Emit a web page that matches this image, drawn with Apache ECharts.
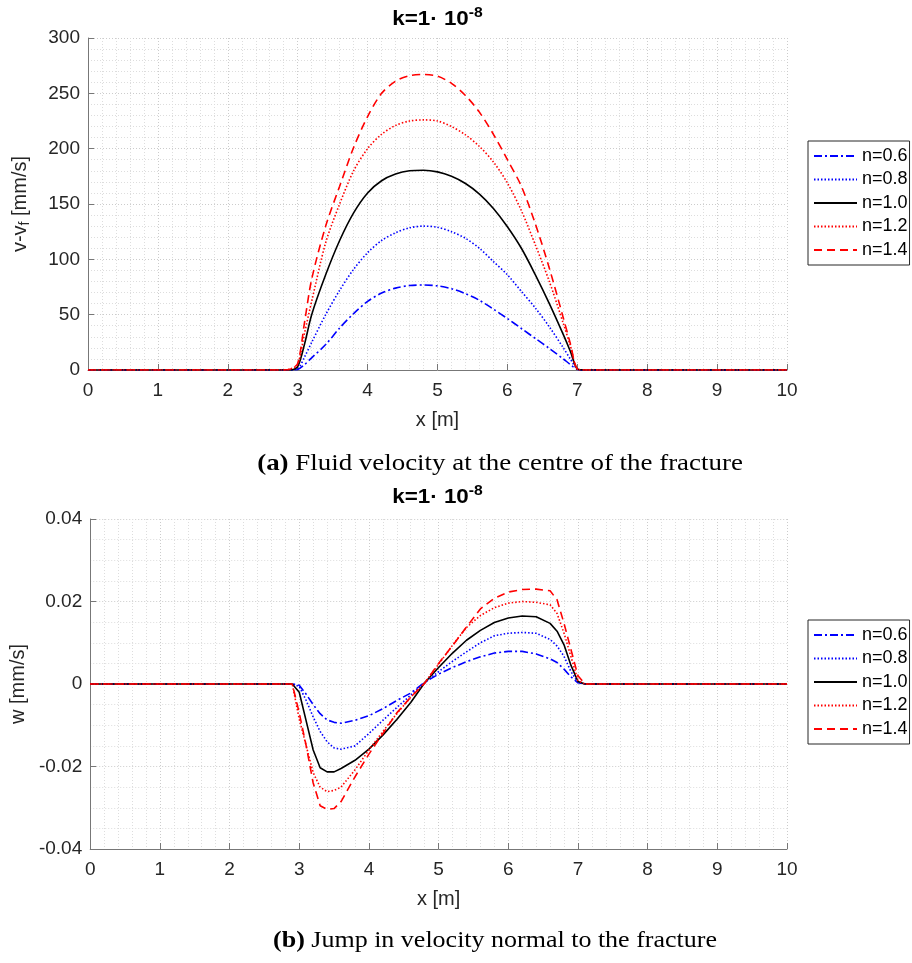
<!DOCTYPE html>
<html>
<head>
<meta charset="utf-8">
<script src="https://cdn.jsdelivr.net/npm/echarts@6/dist/echarts.min.js"></script>
<style>
  html, body { margin: 0; padding: 0; background: #fff; }
  #chart { width: 912px; height: 963px; }
</style>
</head>
<body>
<div id="chart"></div>
<script>
// (a) fluid velocity v - v_f [mm/s] along x [m]
const xTop = [0, 2.8, 2.9, 3.0, 3.1, 3.2, 3.4, 3.6, 3.8, 4.0, 4.2, 4.4, 4.6, 4.8, 5.0, 5.2, 5.4, 5.6, 5.8, 6.0, 6.2, 6.4, 6.6, 6.8, 6.9, 7.0, 7.1, 10]
const velN06 = [0, 0, 0, 0.5, 5, 11, 23, 38, 51, 62, 69.5, 74, 76.3, 76.8, 76, 73.5, 69, 63, 55, 46.5, 37.5, 28.5, 19.5, 10, 5, 0.5, 0, 0]
const velN08 = [0, 0, 0, 1, 12, 25, 50, 72, 91, 106, 117, 124, 128.5, 130, 129, 125, 119, 110, 98, 86, 71, 56, 39, 20, 10, 1, 0, 0]
const velN10 = [0, 0, 0, 3, 24, 50, 86, 117, 142, 160, 171, 177, 180, 180.5, 179, 175, 168.5, 159, 146, 129.5, 110, 86, 60, 32, 17, 1, 0, 0]
const velN12 = [0, 0, 1, 5, 34, 62, 115, 150, 180, 200, 213, 221, 225, 226, 225, 220, 212.5, 202, 188, 169, 144, 113, 80, 42, 22, 1, 0, 0]
const velN14 = [0, 0, 1, 6, 44, 82, 130, 166, 201, 229, 250, 261, 266, 267, 265.5, 259, 248, 233, 213, 190, 166, 132, 92, 47, 24, 1, 0, 0]

// (b) jump in normal velocity w [mm/s] along x [m]
const xBot = [0, 2.8, 2.9, 3.0, 3.1, 3.2, 3.3, 3.4, 3.5, 3.6, 3.8, 4.0, 4.2, 4.4, 4.6, 4.8, 5.0, 5.2, 5.4, 5.6, 5.8, 6.0, 6.2, 6.4, 6.6, 6.7, 6.8, 6.9, 7.0, 7.1, 10]
const jumpN06 = [0, 0, 0, -0.0003, -0.0025, -0.0050, -0.0072, -0.0087, -0.0093, -0.0095, -0.0088, -0.0077, -0.0060, -0.0040, -0.0022, 0.0004, 0.0024, 0.0040, 0.0054, 0.0066, 0.0075, 0.0079, 0.0079, 0.0073, 0.0061, 0.0052, 0.0036, 0.0017, 0.0003, 0, 0]
const jumpN08 = [0, 0, 0, -0.0006, -0.0040, -0.0080, -0.0115, -0.0140, -0.0155, -0.0158, -0.0150, -0.0120, -0.0088, -0.0057, -0.0027, 0.0003, 0.0030, 0.0055, 0.0078, 0.0100, 0.0117, 0.0123, 0.0125, 0.0123, 0.0108, 0.0092, 0.0067, 0.0030, 0.0004, 0, 0]
const jumpN10 = [0, 0, 0, -0.0020, -0.0090, -0.0160, -0.0203, -0.0213, -0.0213, -0.0205, -0.0185, -0.0158, -0.0124, -0.0086, -0.0045, 0.0003, 0.0040, 0.0075, 0.0106, 0.0130, 0.0149, 0.0160, 0.0165, 0.0163, 0.0147, 0.0128, 0.0095, 0.0045, 0.0006, 0, 0]
const jumpN12 = [0, 0, 0, -0.0085, -0.0150, -0.0215, -0.0250, -0.0261, -0.0258, -0.0250, -0.0208, -0.0160, -0.0115, -0.0072, -0.0032, 0.0003, 0.0048, 0.0094, 0.0137, 0.0166, 0.0185, 0.0196, 0.0200, 0.0198, 0.0192, 0.0171, 0.0123, 0.0066, 0.0008, 0, 0]
const jumpN14 = [0, 0, 0, -0.0070, -0.0150, -0.0240, -0.0295, -0.0304, -0.0302, -0.0285, -0.0225, -0.0170, -0.0120, -0.0070, -0.0032, 0.0002, 0.0050, 0.0093, 0.0138, 0.0182, 0.0208, 0.0223, 0.0229, 0.0230, 0.0226, 0.0204, 0.0147, 0.0083, 0.0020, 0, 0]

const seriesNames = ['n=0.6', 'n=0.8', 'n=1.0', 'n=1.2', 'n=1.4']

const FONT = '"Liberation Sans", Helvetica, Arial, sans-serif'
const SERIF = '"Liberation Serif", "Times New Roman", serif'

const lineLooks = [
  { color: '#0000ff', type: [8, 3, 2, 3] },
  { color: '#0000ff', type: [1.5, 2] },
  { color: '#000000', type: 'solid' },
  { color: '#ff0000', type: [1.5, 2] },
  { color: '#ff0000', type: [8, 5] }
]

function pairs (xs, ys) {
  return xs.map((x, i) => [x, ys[i]])
}

function makeSeries (idx, xs, list, smooth) {
  return list.map((ys, i) => ({
    name: seriesNames[i],
    type: 'line',
    xAxisIndex: idx,
    yAxisIndex: idx,
    data: pairs(xs, ys),
    symbol: 'none',
    showSymbol: false,
    smooth: smooth,
    lineStyle: { width: 1.6, color: lineLooks[i].color, type: lineLooks[i].type },
    itemStyle: { color: lineLooks[i].color },
    z: 3 + i
  }))
}

function xAxisOf (idx) {
  return {
    type: 'value',
    gridIndex: idx,
    min: 0,
    max: 10,
    interval: 1,
    name: 'x [m]',
    nameLocation: 'middle',
    nameGap: 40,
    nameTextStyle: { fontFamily: FONT, fontSize: 20, color: '#262626' },
    axisLine: { onZero: false, lineStyle: { color: '#777777', width: 1 } },
    axisTick: { inside: true, length: 6, lineStyle: { color: '#777777' } },
    axisLabel: { fontFamily: FONT, fontSize: 19, color: '#262626', margin: 11 },
    splitLine: { show: true, lineStyle: { color: '#cccccc', type: [1, 2] } },
    minorTick: { show: false, splitNumber: 5 },
    minorSplitLine: { show: true, lineStyle: { color: '#dddddd', type: [1, 2] } }
  }
}

function yAxisOf (idx, min, max, interval, minorSplit, name) {
  return {
    type: 'value',
    gridIndex: idx,
    min: min,
    max: max,
    interval: interval,
    name: name,
    nameLocation: 'middle',
    nameRotate: 90,
    nameGap: 56,
    nameTextStyle: {
      fontFamily: FONT,
      fontSize: 20,
      color: '#262626',
      rich: {
        n: { fontFamily: FONT, fontSize: 20, color: '#262626', lineHeight: 24 },
        s: { fontFamily: FONT, fontSize: 14, color: '#262626', lineHeight: 14, verticalAlign: 'bottom' }
      }
    },
    axisLine: { show: true, onZero: false, lineStyle: { color: '#777777', width: 1 } },
    axisTick: { show: true, inside: true, length: 6, lineStyle: { color: '#777777' } },
    axisLabel: { fontFamily: FONT, fontSize: 19, color: '#262626', margin: 8 },
    splitLine: { show: true, lineStyle: { color: '#cccccc', type: [1, 2] } },
    minorTick: { show: false, splitNumber: minorSplit },
    minorSplitLine: { show: true, lineStyle: { color: '#dddddd', type: [1, 2] } }
  }
}

function legendOf (top) {
  return {
    data: seriesNames,
    orient: 'vertical',
    left: 808,
    top: top,
    padding: [6, 2, 6, 5],
    itemWidth: 43,
    itemHeight: 12,
    itemGap: 5.5,
    borderColor: '#262626',
    borderWidth: 1,
    backgroundColor: '#ffffff',
    selectedMode: false,
    itemStyle: { opacity: 0 },
    textStyle: { fontFamily: FONT, fontSize: 18, color: '#000000', lineHeight: 18 }
  }
}

function titleText (y) {
  return {
    type: 'text',
    x: 437.5,
    y: y,
    scaleX: 1.12,
    originX: 0,
    style: {
      text: '{b|k=1· 10}{sup|-8}',
      align: 'center',
      verticalAlign: 'middle',
      rich: {
        b: { fontFamily: FONT, fontSize: 20, fontWeight: 'bold', fill: '#000', lineHeight: 26 },
        sup: { fontFamily: FONT, fontSize: 14, fontWeight: 'bold', fill: '#000', lineHeight: 14, verticalAlign: 'top' }
      }
    }
  }
}

function captionText (x, y, sx, tag, text) {
  return {
    type: 'text',
    x: x,
    y: y,
    scaleX: sx,
    style: {
      text: '{bd|' + tag + '}{rg| ' + text + '}',
      align: 'center',
      verticalAlign: 'middle',
      rich: {
        bd: { fontFamily: SERIF, fontSize: 23, fontWeight: 'bold', fill: '#000' },
        rg: { fontFamily: SERIF, fontSize: 23, fill: '#000' }
      }
    }
  }
}

const chart = echarts.init(document.getElementById('chart'), null, { renderer: 'canvas' })

const option = {
  animation: false,
  backgroundColor: '#ffffff',
  grid: [
    { left: 88, top: 38, width: 699, height: 332 },
    { left: 89, top: 519, width: 698, height: 330 }
  ],
  xAxis: [xAxisOf(0), xAxisOf(1)],
  yAxis: [
    yAxisOf(0, 0, 300, 50, 5, '{n|v-v}{s|f}{n| [mm/s]}'),
    yAxisOf(1, -0.04, 0.04, 0.02, 4, '{n|w [mm/s]}')
  ],
  legend: [legendOf(141), legendOf(620)],
  graphic: [
    titleText(19),
    titleText(497),
    captionText(500, 464, 1.17, '(a)', 'Fluid velocity at the centre of the fracture'),
    captionText(495, 941, 1.13, '(b)', 'Jump in velocity normal to the fracture')
  ],
  series: [].concat(
    makeSeries(0, xTop, [velN06, velN08, velN10, velN12, velN14], 0.3),
    makeSeries(1, xBot, [jumpN06, jumpN08, jumpN10, jumpN12, jumpN14], false)
  )
}

chart.setOption(option)
</script>
</body>
</html>
